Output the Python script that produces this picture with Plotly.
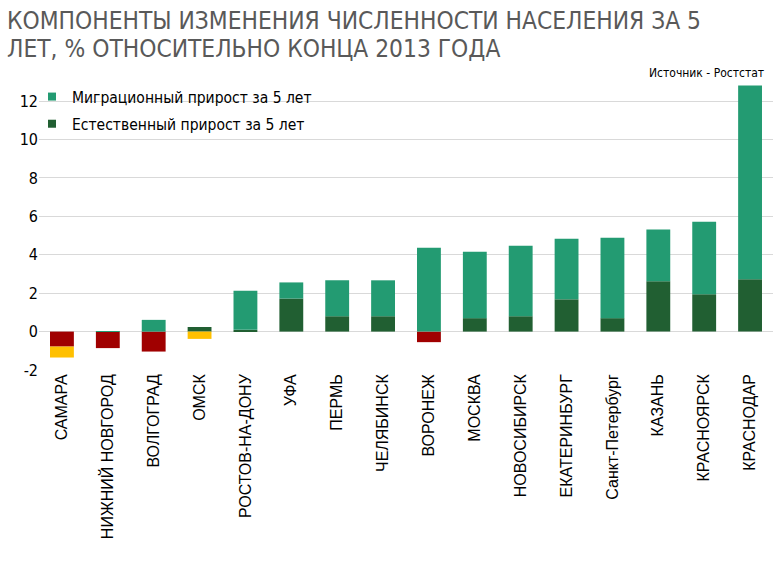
import plotly.graph_objects as go

cities = ["САМАРА", "НИЖНИЙ НОВГОРОД", "ВОЛГОГРАД", "ОМСК", "РОСТОВ-НА-ДОНУ", "УФА",
          "ПЕРМЬ", "ЧЕЛЯБИНСК", "ВОРОНЕЖ", "МОСКВА", "НОВОСИБИРСК", "ЕКАТЕРИНБУРГ",
          "Санкт-Петербург", "КАЗАНЬ", "КРАСНОЯРСК", "КРАСНОДАР"]
natural = [-0.78, -0.86, -1.04, 0.24, 0.09, 1.72, 0.80, 0.80, -0.55, 0.70, 0.80, 1.68,
           0.70, 2.62, 1.95, 2.72]
migration = [-0.57, 0.03, 0.61, -0.38, 2.03, 0.84, 1.87, 1.87, 4.36, 3.46, 3.67, 3.16,
             4.18, 2.69, 3.77, 10.10]
y_ticks = [-2, 0, 2, 4, 6, 8, 10, 12]
y_ticktext = ["-2", "0", "2", "4", "6", "8", "10", "12"]
title_lines = ["КОМПОНЕНТЫ ИЗМЕНЕНИЯ ЧИСЛЕННОСТИ НАСЕЛЕНИЯ ЗА 5",
               "ЛЕТ, % ОТНОСИТЕЛЬНО КОНЦА 2013 ГОДА"]

MIG_POS, MIG_NEG = "#239B72", "#FFC000"
NAT_POS, NAT_NEG = "#215F32", "#A00000"
COND = "DejaVu Sans Condensed, sans-serif"
ARIAL = "Liberation Sans, Arial, sans-serif"

fig = go.Figure()
fig.add_trace(go.Bar(x=cities, y=natural, name="Естественный прирост за 5 лет",
                     marker=dict(color=[NAT_POS if v >= 0 else NAT_NEG for v in natural], line_width=0),
                     showlegend=False))
fig.add_trace(go.Bar(x=cities, y=migration, name="Миграционный прирост за 5 лет",
                     marker=dict(color=[MIG_POS if v >= 0 else MIG_NEG for v in migration], line_width=0),
                     showlegend=False))
fig.add_trace(go.Scatter(x=[None], y=[None], mode="markers", name="Миграционный прирост за 5 лет",
                         legendgroup="m", marker=dict(symbol="square", color=MIG_POS, size=8)))
fig.add_trace(go.Scatter(x=[None], y=[None], mode="markers", name="Естественный прирост за 5 лет",
                         legendgroup="n", marker=dict(symbol="square", color=NAT_POS, size=8)))

# plot area: x 39..773, y 80..370 (pixels)
def py(pix):
    return (370 - pix) / 290.0

def px(pix):
    return (pix - 39) / 734.0

annotations = [
    dict(text=title_lines[0], xref="paper", yref="paper", x=px(5), y=py(20),
         xanchor="left", yanchor="middle", showarrow=False,
         font=dict(family=COND, size=24.3, color="#595959")),
    dict(text=title_lines[1], xref="paper", yref="paper", x=px(5), y=py(49),
         xanchor="left", yanchor="middle", showarrow=False,
         font=dict(family=COND, size=24.3, color="#595959")),
    dict(text="Источник - Ростстат", xref="paper", yref="paper", x=px(766), y=py(73),
         xanchor="right", yanchor="middle", showarrow=False,
         font=dict(family=COND, size=12, color="#000000")),
]

fig.update_layout(
    width=779, height=565,
    barmode="relative", bargap=0.48,
    plot_bgcolor="white", paper_bgcolor="white",
    margin=dict(l=39, r=6, t=80, b=195, autoexpand=False),
    font=dict(family=COND, color="#000000", size=16),
    legend=dict(x=px(32), y=py(80), xanchor="left", yanchor="top", bgcolor="rgba(0,0,0,0)",
                font=dict(family=COND, size=15.5, color="#000000"), itemwidth=30,
                tracegroupgap=4),
    xaxis=dict(tickangle=-90, showgrid=False, ticks="", tickfont=dict(family=ARIAL, size=16),
               showline=False),
    yaxis=dict(range=[-2, 13.1], tickvals=y_ticks, ticktext=y_ticktext, showgrid=True,
               gridcolor="#D9D9D9", zeroline=True, zerolinecolor="#D9D9D9", zerolinewidth=1,
               ticks="", tickfont=dict(family=COND, size=16)),
    annotations=annotations,
)

fig.write_html("out.html", config={"displayModeBar": False},
               post_script="document.body.style.margin='0';")
